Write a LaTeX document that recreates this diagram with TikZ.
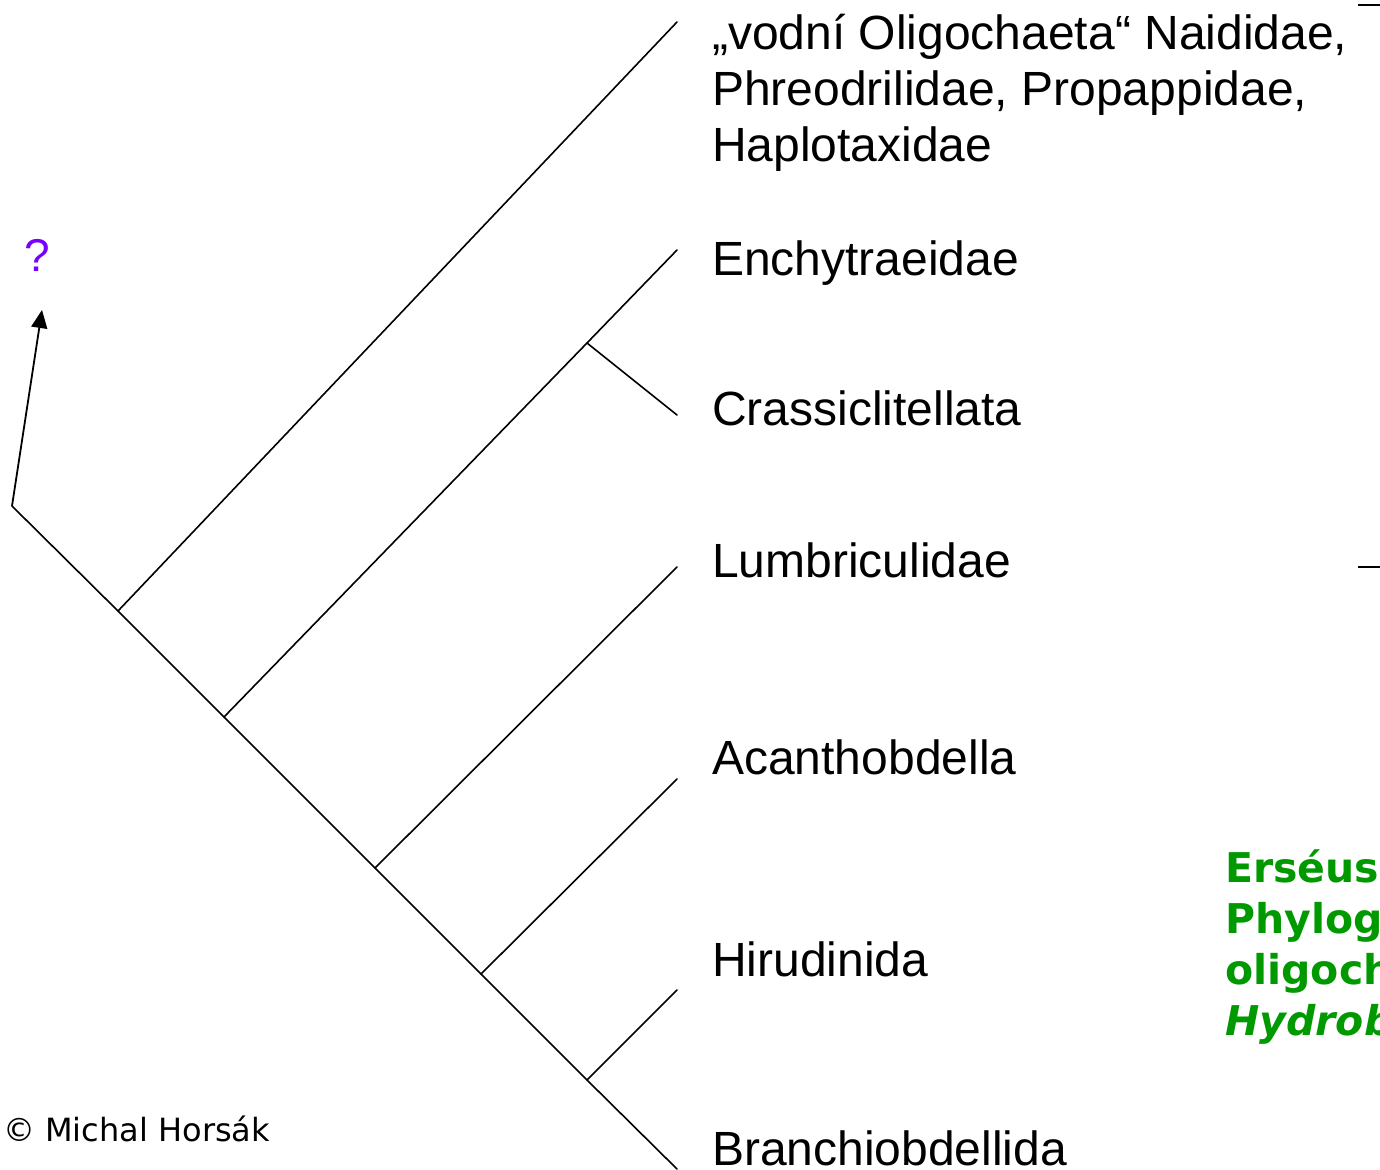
\documentclass[tikz,border=0pt]{standalone}
\usepackage{fontspec}
\setmainfont{Liberation Sans}
\newfontfamily\versans{DejaVu Sans}
\usetikzlibrary{arrows.meta}
\definecolor{refgreen}{HTML}{009900}
\definecolor{qpurple}{HTML}{7700FF}
\begin{document}
\begin{tikzpicture}[x=1pt,y=-1pt,
  branch/.style={line width=1.6pt, line cap=round},
  taxon/.style={anchor=base west, inner sep=0pt, font=\fontsize{48}{56}\selectfont},
]
\useasboundingbox (0,0) rectangle (1380,1169);
\begin{scope}
\clip (0,0) rectangle (1380,1169);
% tree coordinates
\coordinate (root) at (12,506);
\coordinate (n1) at (118,611);
\coordinate (n2) at (224,717);
\coordinate (n3) at (375,868);
\coordinate (n4) at (481,974);
\coordinate (n5) at (587,1080);
\coordinate (nE) at (587,343);
\coordinate (tOlig) at (677,22);
\coordinate (tEnch) at (677,250);
\coordinate (tCras) at (677,415);
\coordinate (tLumb) at (677,567);
\coordinate (tAcan) at (677,779);
\coordinate (tHiru) at (677,990);
\coordinate (tBran) at (677,1169);
% labels
\node[taxon] (lOlig) at (712,50) {\begin{tabular}[t]{@{}l@{}}„vodní Oligochaeta“ Naididae,\\Phreodrilidae, Propappidae,\\Haplotaxidae\end{tabular}};
\node[taxon] (lEnch) at (712,275) {Enchytraeidae};
\node[taxon] (lCras) at (712,425) {Crassiclitellata};
\node[taxon] (lLumb) at (712,577) {Lumbriculidae};
\node[taxon] (lAcan) at (712,774) {Acanthobdella};
\node[taxon] (lHiru) at (712,976) {Hirudinida};
\node[taxon] (lBran) at (712,1165) {Branchiobdellida};
\node[anchor=base, inner sep=0pt, text=qpurple, font=\fontsize{46}{52}\selectfont] (q) at (37,271) {?};
\coordinate (qarrow) at (42,310);
% tree
\draw[branch] (root) -- (n1) -- (n2) -- (n3) -- (n4) -- (n5) -- (tBran);
\draw[branch] (n1) -- (tOlig);
\draw[branch] (n2) -- (nE) -- (tEnch);
\draw[branch] (nE) -- (tCras);
\draw[branch] (n3) -- (tLumb);
\draw[branch] (n4) -- (tAcan);
\draw[branch] (n5) -- (tHiru);
\draw[line width=1.8pt, -{Triangle[length=18pt,width=16pt]}] (root) -- (qarrow);
% small marks at right edge
\coordinate (m1a) at (1358,5); \coordinate (m1b) at (1382,5);
\coordinate (m2a) at (1358,567); \coordinate (m2b) at (1382,567);
\draw[line width=1.6pt] (m1a) -- (m1b);
\draw[line width=1.6pt] (m2a) -- (m2b);
% copyright
\node[anchor=base west, inner sep=0pt, font=\versans\fontsize{32}{38}\selectfont] (copy) at (3,1141) {© Michal Horsák};
% reference (clipped at right edge)
\node[anchor=base west, inner sep=0pt, text=refgreen, font=\versans\bfseries\fontsize{41}{51}\selectfont] (ref) at (1225,882)
  {\begin{tabular}[t]{@{}l@{}}Erséus (2005):\\Phylogeny of\\oligochaetous Clitellata.\\\itshape Hydrobiologia\end{tabular}};
\end{scope}
\end{tikzpicture}
\end{document}
